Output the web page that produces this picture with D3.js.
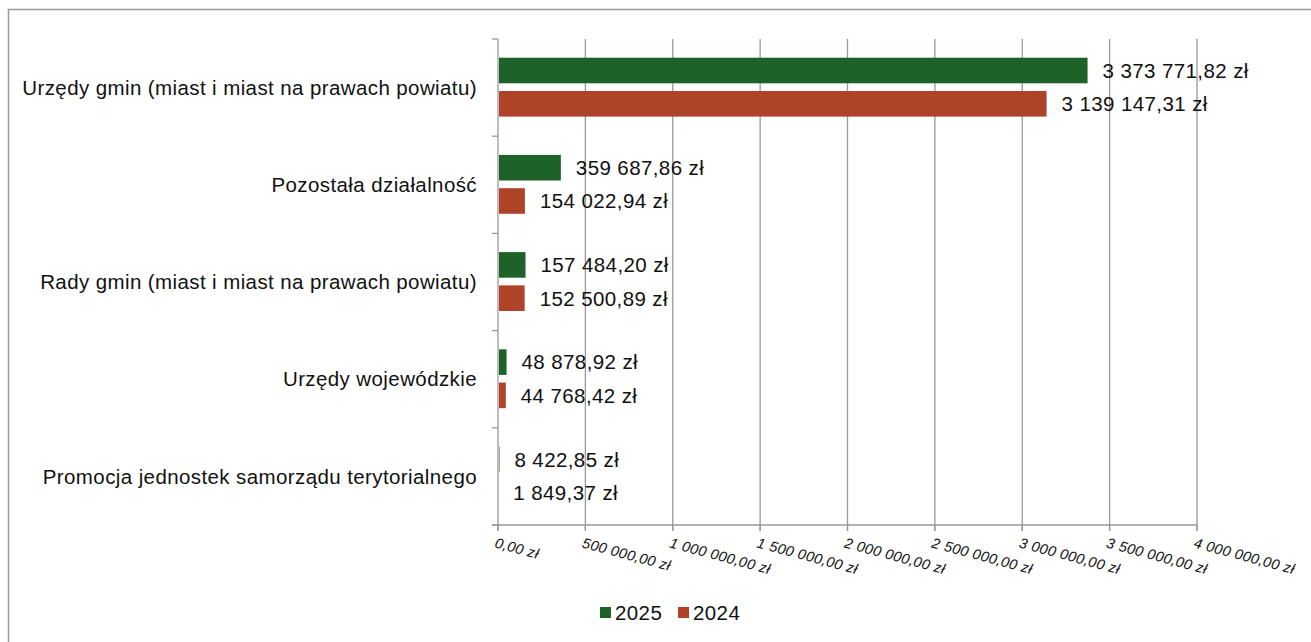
<!DOCTYPE html>
<html><head><meta charset="utf-8">
<script src="https://cdn.jsdelivr.net/npm/d3@7"></script>
<style>body{margin:0;background:#fff;}svg{display:block;font-family:"Liberation Sans",Arial,sans-serif;}</style>
</head><body>
<script>
const categories = ["Urzędy gmin (miast i miast na prawach powiatu)","Pozostała działalność","Rady gmin (miast i miast na prawach powiatu)","Urzędy wojewódzkie","Promocja jednostek samorządu terytorialnego"];
const series = ["2025","2024"];
const values2025 = [3373771.82, 359687.86, 157484.20, 48878.92, 8422.85];
const values2024 = [3139147.31, 154022.94, 152500.89, 44768.42, 1849.37];
const tickValues = [0,500000,1000000,1500000,2000000,2500000,3000000,3500000,4000000];
const colors = ["#1f6229","#ae4327"];

const W=1311,H=642;
const svg=d3.select("body").append("svg").attr("width",W).attr("height",H);
svg.append("rect").attr("x",8.5).attr("y",9.5).attr("width",W).attr("height",H).attr("fill","none").attr("stroke","#999").attr("stroke-width",1.5);

const x=d3.scaleLinear().domain([0,4000000]).range([498,1197]);
const y=d3.scaleBand().domain(categories).range([39,525]);
const yInner=d3.scaleBand().domain(series).range([18.7,18.7+25.6*2+7.7]).paddingInner(0.231);

const fmt=v=>{const s=v.toFixed(2).split(".");return s[0].replace(/\B(?=(\d{3})+(?!\d))/g," ")+","+s[1]+" zł";};
const FS=20.5, LS=0.4;

// gridlines
svg.append("g").selectAll("line").data(tickValues.slice(1)).join("line")
 .attr("x1",d=>x(d)).attr("x2",d=>x(d)).attr("y1",39).attr("y2",531)
 .attr("stroke","#999").attr("stroke-width",1.3);

// bottom axis
const gx=svg.append("g").attr("transform","translate(0,525)");
gx.append("line").attr("x1",492).attr("x2",1197).attr("stroke","#999").attr("stroke-width",1.3);
gx.selectAll("line.t").data(tickValues).join("line").attr("class","t")
 .attr("x1",d=>x(d)).attr("x2",d=>x(d)).attr("y1",0).attr("y2",6).attr("stroke","#999").attr("stroke-width",1.3);
gx.selectAll("text").data(tickValues).join("text")
 .attr("transform",d=>`translate(${x(d)-1},${11}) rotate(15)`)
 .attr("dy","0.8em").attr("font-size",14.5).attr("letter-spacing",0.3).attr("font-style","italic").attr("fill","#111")
 .text(d=>fmt(d));

// left axis
const gy=svg.append("g");
gy.append("line").attr("x1",498).attr("x2",498).attr("y1",39).attr("y2",531).attr("stroke","#999").attr("stroke-width",1.3);
const bounds=categories.map(c=>y(c)).concat([525]);
gy.selectAll("line.t").data(bounds).join("line").attr("class","t")
 .attr("x1",492).attr("x2",498).attr("y1",d=>d).attr("y2",d=>d).attr("stroke","#999").attr("stroke-width",1.3);
gy.selectAll("text").data(categories).join("text")
 .attr("x",477).attr("y",d=>y(d)+y.bandwidth()/2).attr("dy","0.35em")
 .attr("text-anchor","end").attr("font-size",FS).attr("letter-spacing",LS).attr("fill","#111").text(d=>d);

// bars
const data=[];
categories.forEach((c,i)=>{data.push({c,s:"2025",v:values2025[i]});data.push({c,s:"2024",v:values2024[i]});});
svg.append("g").selectAll("rect").data(data).join("rect")
 .attr("x",x(0)+1).attr("y",d=>y(d.c)+yInner(d.s))
 .attr("width",d=>Math.max(0,x(d.v)-x(0)-1)).attr("height",yInner.bandwidth())
 .attr("fill",d=>colors[series.indexOf(d.s)]);
svg.append("g").selectAll("text").data(data).join("text")
 .attr("x",d=>x(d.v)+15).attr("y",d=>y(d.c)+yInner(d.s)+yInner.bandwidth()/2).attr("dy","0.36em")
 .attr("font-size",FS).attr("letter-spacing",LS).attr("fill","#111").text(d=>fmt(d.v));

// legend
const lg=svg.append("g");
const lx=[600,678];
series.forEach((s,i)=>{
 lg.append("rect").attr("x",lx[i]).attr("y",607).attr("width",11).attr("height",11).attr("fill",colors[i]);
 lg.append("text").attr("x",lx[i]+15).attr("y",612.5).attr("dy","0.36em").attr("font-size",FS).attr("letter-spacing",LS).attr("fill","#111").text(s);
});
</script>
</body></html>
